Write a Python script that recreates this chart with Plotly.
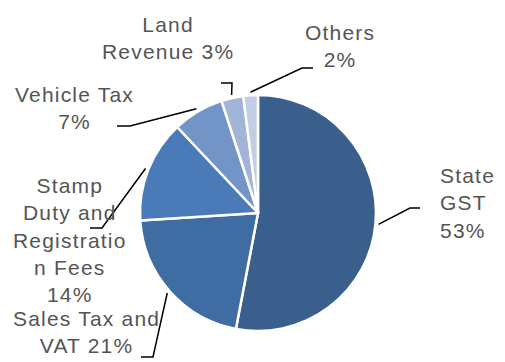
import math
import plotly.graph_objects as go

# Revenue sources and their share of the total (%)
labels = ["State GST", "Sales Tax and VAT", "Stamp Duty and Registration Fees",
          "Vehicle Tax", "Land Revenue", "Others"]
shares = [53, 21, 14, 7, 3, 2]
label_text = ["State<br>GST<br>53%", "Sales Tax and<br>VAT 21%",
              "Stamp<br>Duty and<br>Registratio<br>n Fees<br>14%",
              "Vehicle Tax<br>7%", "Land<br>Revenue 3%", "Others<br>2%"]
colors = ["#3A5F8D", "#3F6CA2", "#4A7BB8", "#7394C7", "#A2B4D7", "#C3CEE5"]

W, H = 505, 362
CX, CY, R = 258, 213, 118          # pie centre / radius in pixels (top-left origin)

# label block placement (pixel centre, anchor) and leader-line elbows
label_pos = [(438, 203, "left"), (86, 332, "center"), (70, 240, "center"),
             (74, 108, "center"), (168, 38, "center"), (340, 46, "center")]
elbows = [((410, 208), (420, 208)), ((153, 357), (141, 357)),
          ((102, 228), (90, 228)), ((130, 126), (117, 126)),
          ((232, 83), (221, 83)), ((302, 68), (313, 68))]


def px(x):
    return x / W


def py(y):
    return 1 - y / H


fig = go.Figure(go.Pie(
    labels=labels, values=shares, sort=False, direction="clockwise", rotation=0,
    marker=dict(colors=colors, line=dict(color="white", width=2.5)),
    textinfo="none", hoverinfo="label+percent", showlegend=False,
    domain=dict(x=[px(CX - R), px(CX + R)], y=[py(CY + R), py(CY - R)]),
))

font = dict(family="Liberation Sans, Arial, sans-serif", size=21, color="#555555")
total = sum(shares)
cum = 0
shapes, annotations = [], []
for i, v in enumerate(shares):
    mid = (cum + v / 2) / total * 2 * math.pi
    cum += v
    sx = CX + (R + 3) * math.sin(mid)
    sy = CY - (R + 3) * math.cos(mid)
    (ex, ey), (tx, ty) = elbows[i]
    shapes.append(dict(
        type="path", xref="paper", yref="paper",
        path=f"M {px(sx)},{py(sy)} L {px(ex)},{py(ey)} L {px(tx)},{py(ty)}",
        line=dict(color="black", width=1.5)))
    lx, ly, al = label_pos[i]
    annotations.append(dict(
        x=px(lx), y=py(ly), xref="paper", yref="paper",
        text=f'<span style="letter-spacing:1.2px">{label_text[i]}</span>',
        showarrow=False, xanchor="left" if al == "left" else "center",
        yanchor="middle", align=al, font=font))

fig.update_layout(
    width=W, height=H, margin=dict(l=0, r=0, t=0, b=0),
    paper_bgcolor="white", plot_bgcolor="white",
    shapes=shapes, annotations=annotations,
)

fig.write_html("out.html")
